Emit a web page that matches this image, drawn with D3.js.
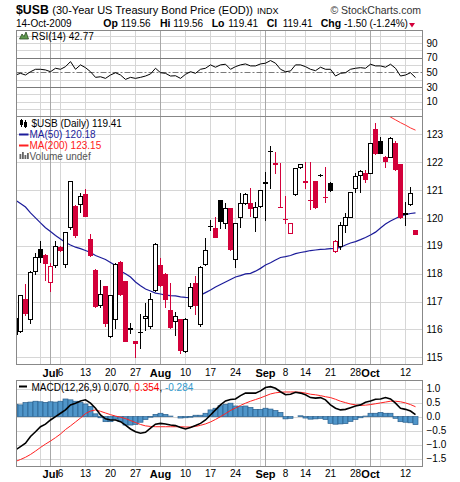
<!DOCTYPE html>
<html>
<head>
<meta charset="utf-8">
<script src="https://cdn.jsdelivr.net/npm/d3@7"></script>
<style>
body { margin: 0; background: #fff; }
svg text { font-family: "Liberation Sans", Arial, sans-serif; }
</style>
</head>
<body>
<div class="usb"></div>
<script>
// trading sessions shown on the chart
var dates = [
	"2009-06-22","2009-06-23","2009-06-24","2009-06-25","2009-06-26","2009-06-29","2009-06-30",
	"2009-07-01","2009-07-02","2009-07-06","2009-07-07","2009-07-08","2009-07-09","2009-07-10","2009-07-13","2009-07-14","2009-07-15","2009-07-16","2009-07-17","2009-07-20","2009-07-21","2009-07-22","2009-07-23","2009-07-24","2009-07-27","2009-07-28","2009-07-29","2009-07-30","2009-07-31",
	"2009-08-03","2009-08-04","2009-08-05","2009-08-06","2009-08-07","2009-08-10","2009-08-11","2009-08-12","2009-08-13","2009-08-14","2009-08-17","2009-08-18","2009-08-19","2009-08-20","2009-08-21","2009-08-24","2009-08-25","2009-08-26","2009-08-27","2009-08-28","2009-08-31",
	"2009-09-01","2009-09-02","2009-09-03","2009-09-04","2009-09-08","2009-09-09","2009-09-10","2009-09-11","2009-09-14","2009-09-15","2009-09-16","2009-09-17","2009-09-18","2009-09-21","2009-09-22","2009-09-23","2009-09-24","2009-09-25","2009-09-28","2009-09-29","2009-09-30",
	"2009-10-01","2009-10-02","2009-10-05","2009-10-06","2009-10-07","2009-10-08","2009-10-09","2009-10-12","2009-10-13","2009-10-14"
];

var open = [115.85,115.95,117.08,116.36,118.10,118.89,118.67,117.71,118.30,118.97,118.34,119.66,120.43,120.49,120.85,119.23,118.13,116.86,117.55,115.76,116.36,118.43,117.73,116.03,115.58,115.90,116.40,116.12,117.41,118.31,117.99,116.69,116.31,116.36,115.23,116.84,117.66,116.19,118.33,119.70,119.65,120.64,119.81,120.34,118.51,120.04,120.52,120.54,120.04,120.43,121.27,122.39,121.95,120.41,119.96,119.47,120.86,121.82,121.31,120.65,121.32,121.53,120.75,121.27,118.80,119.00,119.76,120.04,121.06,121.54,121.60,121.62,123.18,122.77,122.20,122.20,122.68,121.93,120.15,120.50,119.56];
var high = [116.45,117.25,117.63,118.08,118.73,119.18,118.72,118.37,119.18,119.00,119.50,121.34,120.45,120.90,121.03,119.42,118.15,117.77,117.57,117.25,118.37,118.45,117.75,116.22,115.60,116.57,116.93,117.29,119.11,118.55,118.01,117.67,116.63,116.38,116.41,117.67,117.91,118.27,119.27,119.92,120.04,120.66,120.52,120.36,119.83,120.88,120.90,121.06,120.56,121.02,121.66,122.58,122.38,121.98,120.79,119.83,121.80,121.94,122.02,122.02,121.34,121.56,121.84,121.29,119.20,119.86,120.19,120.94,121.60,121.72,121.72,122.70,123.42,122.91,122.22,122.92,122.75,121.95,120.58,121.10,119.56];
var low = [115.73,115.90,116.51,116.22,117.98,118.42,117.77,117.39,118.25,118.83,118.25,119.60,119.30,120.22,120.06,118.65,116.80,116.81,116.12,115.74,116.04,117.25,115.57,115.86,115.00,115.35,115.97,116.04,117.38,117.57,116.81,116.05,115.80,115.14,115.20,116.75,116.57,116.12,118.30,119.56,119.30,119.63,119.63,118.85,118.25,119.68,120.50,120.07,119.54,120.40,119.92,121.06,121.60,120.38,119.83,119.45,120.84,121.80,121.06,120.31,120.36,121.52,120.58,120.98,118.78,118.87,119.50,120.02,120.94,120.94,121.30,121.60,122.30,122.32,121.84,122.18,121.72,120.00,119.74,120.45,119.41];
var close = [116.41,117.23,116.58,118.05,118.59,118.61,118.39,118.27,118.99,118.85,119.48,121.32,119.39,120.79,120.08,118.67,116.84,117.27,116.24,117.22,118.34,117.27,115.59,116.05,115.50,115.92,116.49,117.08,119.05,117.59,117.08,116.07,116.48,115.26,116.39,117.52,116.86,118.25,118.85,119.72,119.32,119.90,120.34,118.87,119.81,120.52,120.86,120.34,120.38,121.00,121.29,122.41,121.97,120.40,119.95,119.81,121.78,121.92,121.30,120.64,120.38,121.54,120.74,121.00,119.18,119.74,120.04,120.92,121.50,121.68,121.38,122.68,122.32,122.34,122.05,122.88,121.74,120.02,120.16,120.91,119.41];

var ma50 = [120.64,120.52,120.39,120.18,120.00,119.82,119.65,119.51,119.37,119.24,119.12,119.03,118.95,118.90,118.83,118.76,118.65,118.58,118.51,118.40,118.29,118.09,118.00,117.88,117.70,117.57,117.45,117.38,117.30,117.27,117.23,117.21,117.20,117.17,117.15,117.14,117.18,117.23,117.32,117.41,117.52,117.61,117.70,117.79,117.88,117.93,117.99,118.01,118.09,118.19,118.31,118.39,118.49,118.58,118.61,118.65,118.72,118.76,118.79,118.83,118.85,118.87,118.88,118.90,118.91,118.94,119.03,119.10,119.15,119.22,119.30,119.39,119.49,119.64,119.78,119.89,119.98,120.07,120.12,120.16,120.18];
// only the tail of the 200-day average comes into view
var ma200Dates = ["2009-10-02","2009-10-05","2009-10-06","2009-10-07","2009-10-08","2009-10-09","2009-10-12","2009-10-13","2009-10-14"];
var ma200 = [123.90,123.80,123.71,123.62,123.52,123.42,123.33,123.23,123.15];

var rsi = [46.3,48.6,46.3,50.8,54.1,54.1,53.2,50.8,55.5,54.1,57.7,64.6,54.1,60.1,56.3,50.8,43.1,43.9,41.7,46.3,49.4,46.3,40.3,43.1,41.7,43.1,44.9,47.7,55.5,49.4,48.6,44.9,45.3,41.7,47.2,50.8,48.6,54.1,55.5,60.1,56.9,60.1,61.0,54.1,57.7,60.1,61.4,58.7,58.7,61.4,62.4,66.0,62.4,54.1,50.8,51.8,60.1,60.1,57.7,54.1,52.2,56.9,54.1,54.1,44.9,48.6,49.4,54.1,55.5,56.3,55.5,61.0,58.7,58.7,56.9,61.0,55.5,44.9,46.3,49.4,42.77];

var macd = [-1.19,-1.07,-0.95,-0.71,-0.54,-0.36,-0.27,-0.12,0.00,0.12,0.24,0.42,0.48,0.56,0.60,0.48,0.30,0.06,-0.08,-0.12,-0.12,-0.18,-0.30,-0.44,-0.54,-0.59,-0.56,-0.41,-0.27,-0.24,-0.26,-0.30,-0.32,-0.39,-0.44,-0.39,-0.32,-0.24,-0.12,0.06,0.24,0.42,0.56,0.61,0.63,0.75,0.84,0.84,0.84,0.92,1.04,1.07,1.01,0.89,0.78,0.80,0.87,0.84,0.78,0.68,0.66,0.68,0.60,0.42,0.30,0.24,0.26,0.32,0.38,0.42,0.51,0.56,0.62,0.63,0.68,0.63,0.48,0.30,0.26,0.20,0.07];
var signal = [-1.60,-1.53,-1.45,-1.35,-1.23,-1.10,-0.98,-0.87,-0.75,-0.62,-0.46,-0.33,-0.19,-0.05,0.11,0.20,0.24,0.19,0.13,0.07,0.02,-0.02,-0.07,-0.14,-0.21,-0.28,-0.33,-0.35,-0.36,-0.36,-0.36,-0.36,-0.36,-0.36,-0.37,-0.37,-0.35,-0.31,-0.26,-0.19,-0.10,0.00,0.11,0.22,0.31,0.40,0.48,0.55,0.61,0.67,0.74,0.81,0.85,0.87,0.88,0.88,0.88,0.87,0.84,0.80,0.78,0.75,0.71,0.68,0.62,0.55,0.50,0.45,0.42,0.40,0.41,0.43,0.46,0.49,0.52,0.55,0.55,0.53,0.49,0.43,0.354];
var hist = [0.44,0.42,0.50,0.52,0.55,0.53,0.51,0.53,0.52,0.55,0.63,0.60,0.55,0.50,0.45,0.36,0.10,-0.04,-0.18,-0.18,-0.09,-0.18,-0.30,-0.30,-0.28,-0.20,-0.10,-0.02,0.08,0.12,0.08,0.02,0.00,-0.05,-0.04,-0.02,0.05,0.05,0.12,0.24,0.30,0.39,0.44,0.48,0.38,0.36,0.38,0.33,0.26,0.26,0.30,0.27,0.22,0.15,-0.08,-0.06,0.00,0.03,-0.05,-0.09,-0.08,-0.06,-0.10,-0.24,-0.27,-0.26,-0.25,-0.17,-0.10,-0.04,0.02,0.12,0.12,0.15,0.12,0.12,-0.06,-0.18,-0.20,-0.22,-0.284];

// axis ticks and labels
var weekTicks = ["2009-06-29","2009-07-06","2009-07-13","2009-07-20","2009-07-27","2009-08-10","2009-08-17","2009-08-24","2009-08-31","2009-09-08","2009-09-14","2009-09-21","2009-09-28","2009-10-05","2009-10-12"];
var monthTicks = ["2009-07-01","2009-08-03","2009-09-01","2009-10-01"];
var monthLabels = ["Jul","Aug","Sep","Oct"];
var dayTicks = ["2009-07-06","2009-07-13","2009-07-20","2009-07-27","2009-08-10","2009-08-17","2009-08-24","2009-09-08","2009-09-14","2009-09-21","2009-09-28","2009-10-12"];
var dayLabels = ["6","13","20","27","10","17","24","8","14","21","28","12"];
var priceTicks = [115,116,117,118,119,120,121,122,123];
var rsiTicks = [90,70,50,30,10];
var rsiGrid = [0,10,20,40,60,80,90,100];
var macdTicks = [1.0,0.5,0.0,-0.5,-1.0,-1.5];

(function drawUSB() {
	"use strict";
	var width = 460, height = 482;
	var left = 16.5, right = 422.5;
	var rsiTop = 30.5, rsiBot = 116.5;
	var priceTop = 116.5, priceBot = 364.5;
	var macdTop = 380.5, macdBot = 466.5;
	var red = "#d3003a";

	var svg = d3.select(".usb")
				.append("svg")
				.attr("width", width)
				.attr("height", height)
				.style("display", "block");

	var defs = svg.append("defs");
	[["clipRsi", rsiTop, rsiBot], ["clipPrice", priceTop, priceBot], ["clipMacd", macdTop, macdBot]].forEach(function(c) {
		defs.append("clipPath").attr("id", c[0])
			.append("rect")
			.attr("x", left).attr("y", c[1])
			.attr("width", right - left).attr("height", c[2] - c[1]);
	});

	var xScale = d3.scalePoint().domain(dates).range([15, 415]);
	function cx(d) { return xScale(d) + 0.5; }

	var yPrice = d3.scaleLinear().domain([114.74, 123.64]).range([priceBot, priceTop]);
	var yRsi = d3.scaleLinear().domain([-10.3, 107.0]).range([rsiBot, rsiTop]);
	var yMacd = d3.scaleLinear().domain([-1.78, 1.29]).range([macdBot, macdTop]);

	// panel backgrounds
	[[rsiTop, rsiBot], [priceTop, priceBot], [macdTop, macdBot]].forEach(function(p) {
		svg.append("rect").attr("x", left).attr("y", p[0])
		   .attr("width", right - left).attr("height", p[1] - p[0])
		   .attr("fill", "#fff");
	});

	function vGrid(top, bot, ticks, color) {
		svg.append("g")
		   .attr("transform", "translate(0," + bot + ")")
		   .call(d3.axisBottom(xScale).tickValues(ticks).tickSize(-(bot - top)).tickFormat(""))
		   .call(function(g) { g.select(".domain").remove(); })
		   .selectAll("line")
		   .attr("stroke", color)
		   .attr("shape-rendering", "crispEdges");
	}
	function hGrid(scale, ticks, color) {
		svg.append("g")
		   .attr("transform", "translate(" + (left - 0.5) + ",0)")
		   .call(d3.axisLeft(scale).tickValues(ticks).tickSize(-(right - left)).tickFormat(""))
		   .call(function(g) { g.select(".domain").remove(); })
		   .selectAll("line")
		   .attr("stroke", color)
		   .attr("shape-rendering", "crispEdges");
	}
	function rightAxis(scale, ticks, fmt) {
		svg.append("g")
		   .attr("transform", "translate(" + right + ",0)")
		   .call(d3.axisRight(scale).tickValues(ticks).tickSize(0).tickPadding(4).tickFormat(fmt))
		   .call(function(g) { g.select(".domain").remove(); })
		   .selectAll("text")
		   .attr("font-size", "10px")
		   .attr("font-family", "Liberation Sans, Arial, sans-serif")
		   .attr("fill", "#000");
	}

	[[rsiTop, rsiBot], [priceTop, priceBot], [macdTop, macdBot]].forEach(function(p) {
		vGrid(p[0], p[1], weekTicks, "#d6d6d6");
	});
	hGrid(yRsi, rsiGrid, "#d6d6d6");
	hGrid(yPrice, priceTicks, "#d6d6d6");
	hGrid(yMacd, macdTicks, "#d6d6d6");
	[[rsiTop, rsiBot], [priceTop, priceBot], [macdTop, macdBot]].forEach(function(p) {
		vGrid(p[0], p[1], monthTicks, "#a8a8a8");
	});

	// RSI panel
	var rsiG = svg.append("g").attr("clip-path", "url(#clipRsi)");
	[70, 30].forEach(function(v) {
		rsiG.append("line")
			.attr("x1", left).attr("x2", right)
			.attr("y1", Math.round(yRsi(v)) + 0.5).attr("y2", Math.round(yRsi(v)) + 0.5)
			.attr("stroke", "#7a7a7a");
	});
	rsiG.append("line")
		.attr("x1", left).attr("x2", right)
		.attr("y1", Math.round(yRsi(50)) + 0.5).attr("y2", Math.round(yRsi(50)) + 0.5)
		.attr("stroke", "#7a7a7a")
		.attr("stroke-dasharray", "6,2,2,2");
	rsiG.append("path")
		.datum(rsi)
		.attr("fill", "none")
		.attr("stroke", "#000")
		.attr("stroke-width", 1)
		.attr("d", d3.line()
			.x(function(d, i) { return cx(dates[i]); })
			.y(function(d) { return yRsi(d); }));
	rightAxis(yRsi, rsiTicks, d3.format("d"));

	// price panel
	var priceG = svg.append("g").attr("clip-path", "url(#clipPrice)");
	priceG.append("path")
		  .datum(ma200)
		  .attr("fill", "none")
		  .attr("stroke", "#ff3030")
		  .attr("stroke-width", 1)
		  .attr("d", d3.line()
		  	.x(function(d, i) { return cx(ma200Dates[i]); })
		  	.y(function(d) { return yPrice(d); }));
	priceG.append("path")
		  .datum(ma50)
		  .attr("fill", "none")
		  .attr("stroke", "#1c1c9a")
		  .attr("stroke-width", 1.2)
		  .attr("d", d3.line()
		  	.x(function(d, i) { return cx(dates[i]); })
		  	.y(function(d) { return yPrice(d); }));

	dates.forEach(function(d, i) {
		var x = cx(d);
		var o = open[i], h = high[i], l = low[i], c = close[i];
		var col = (i === 0 || c >= close[i - 1]) ? "#000" : red;
		var top = Math.round(yPrice(Math.max(o, c)));
		var bot = Math.round(yPrice(Math.min(o, c)));
		var g = priceG.append("g").attr("stroke", col).attr("shape-rendering", "crispEdges");
		if (bot - top < 1) {
			g.append("line")
			 .attr("x1", x).attr("x2", x)
			 .attr("y1", Math.round(yPrice(h))).attr("y2", Math.round(yPrice(l)) + 1);
			g.append("line")
			 .attr("x1", x - 2.5).attr("x2", x + 2.5)
			 .attr("y1", top + 0.5).attr("y2", top + 0.5);
		} else {
			g.append("line")
			 .attr("x1", x).attr("x2", x)
			 .attr("y1", Math.round(yPrice(h))).attr("y2", top);
			g.append("line")
			 .attr("x1", x).attr("x2", x)
			 .attr("y1", bot + 1).attr("y2", Math.round(yPrice(l)) + 1);
			g.append("rect")
			 .attr("x", x - 2).attr("y", top + 0.5)
			 .attr("width", 4).attr("height", bot - top)
			 .attr("fill", c > o ? "#fff" : col);
		}
	});
	rightAxis(yPrice, priceTicks, d3.format("d"));

	// MACD panel
	var macdG = svg.append("g").attr("clip-path", "url(#clipMacd)");
	macdG.selectAll("rect.bar")
		 .data(hist)
		 .enter()
		 .append("rect")
		 .attr("class", "bar")
		 .attr("x", function(d, i) { return cx(dates[i]) - 2.5; })
		 .attr("width", 5)
		 .attr("y", function(d) { return Math.min(yMacd(0), yMacd(d)); })
		 .attr("height", function(d) { return Math.abs(yMacd(d) - yMacd(0)); })
		 .attr("fill", "#4f95c9")
		 .attr("stroke", "#2a5f8c")
		 .attr("stroke-width", 0.7);
	macdG.append("path")
		 .datum(signal)
		 .attr("fill", "none")
		 .attr("stroke", "#ff2020")
		 .attr("stroke-width", 1)
		 .attr("d", d3.line()
		 	.x(function(d, i) { return cx(dates[i]); })
		 	.y(function(d) { return yMacd(d); }));
	macdG.append("path")
		 .datum(macd)
		 .attr("fill", "none")
		 .attr("stroke", "#000")
		 .attr("stroke-width", 1.6)
		 .attr("d", d3.line()
		 	.x(function(d, i) { return cx(dates[i]); })
		 	.y(function(d) { return yMacd(d); }));
	rightAxis(yMacd, macdTicks, d3.format(".1f"));

	// panel borders
	[[rsiTop, rsiBot], [priceTop, priceBot], [macdTop, macdBot]].forEach(function(p) {
		svg.append("rect").attr("x", left).attr("y", p[0])
		   .attr("width", right - left).attr("height", p[1] - p[0])
		   .attr("fill", "none").attr("stroke", "#888")
		   .attr("shape-rendering", "crispEdges");
	});

	// date axes under price and MACD panels
	var labelDates = dayTicks.concat(monthTicks);
	var labelText = {};
	dayTicks.forEach(function(d, i) { labelText[d] = dayLabels[i]; });
	monthTicks.forEach(function(d, i) { labelText[d] = monthLabels[i]; });
	[[priceBot, 4.4], [macdBot, 3.4]].forEach(function(a) {
		svg.append("g")
		   .attr("transform", "translate(0," + a[0] + ")")
		   .call(d3.axisBottom(xScale).tickValues(labelDates).tickSize(0).tickPadding(a[1])
		   	.tickFormat(function(d) { return labelText[d]; }))
		   .call(function(g) { g.select(".domain").remove(); })
		   .selectAll("text")
		   .attr("fill", "#000")
		   .attr("font-family", "Liberation Sans, Arial, sans-serif")
		   .attr("font-size", function(d) { return monthTicks.indexOf(d) >= 0 ? "11px" : "10px"; })
		   .attr("font-weight", function(d) { return monthTicks.indexOf(d) >= 0 ? "bold" : "normal"; });
	});

	// header
	var head = svg.append("text").attr("x", 16).attr("y", 13.5).attr("fill", "#000");
	head.append("tspan").attr("font-size", "12.3px").attr("font-weight", "bold").text("$USB");
	head.append("tspan").attr("font-size", "11px").attr("dx", 3.5).text("(30-Year US Treasury Bond Price (EOD))");
	head.append("tspan").attr("font-size", "9px").attr("dx", 4).text("INDX");
	svg.append("text").attr("x", 421).attr("y", 13.5)
	   .attr("text-anchor", "end").attr("font-size", "10.5px").attr("fill", "#333")
	   .text("\u00a9 StockCharts.com");

	svg.append("text").attr("x", 16).attr("y", 27).attr("font-size", "10px").text("14-Oct-2009");
	var quote = [["Op", 103.3], ["119.56", 120.7], ["Hi", 160], ["119.56", 173.3], ["Lo", 211.7], ["119.41", 228.3],
				 ["Cl", 266.7], ["119.41", 282.7], ["Chg", 320.7], ["-1.50 (-1.24%)", 344]];
	quote.forEach(function(q, i) {
		svg.append("text").attr("x", q[1]).attr("y", 27)
		   .attr("font-size", i % 2 === 0 ? "10.5px" : "10px")
		   .attr("font-weight", i % 2 === 0 ? "bold" : "normal")
		   .text(q[0]);
	});
	svg.append("path").attr("d", "M409,23 L415,23 L412,27.5 Z").attr("fill", red);

	// legends
	var mono = "DejaVu Sans Mono, monospace";
	svg.append("path")
	   .attr("d", "M19.5,39 L22,34 L24,36.5 L26,32 L28.5,39 Z")
	   .attr("fill", "#5f9a4f").attr("stroke", "#2d4d26").attr("stroke-width", 0.8);
	svg.append("text").attr("x", 31.5).attr("y", 39.5)
	   .attr("font-family", mono).attr("font-size", "10px").text("RSI(14) 42.77");

	// price legend icon: two tiny candles
	var icon = svg.append("g").attr("stroke", "#000").attr("shape-rendering", "crispEdges");
	icon.append("line").attr("x1", 21.5).attr("x2", 21.5).attr("y1", 119).attr("y2", 127);
	icon.append("rect").attr("x", 20.5).attr("y", 120.5).attr("width", 2).attr("height", 4).attr("fill", "#000");
	icon.append("line").attr("x1", 25.5).attr("x2", 25.5).attr("y1", 120).attr("y2", 128);
	icon.append("rect").attr("x", 24.5).attr("y", 122.5).attr("width", 2).attr("height", 4).attr("fill", "#000");
	svg.append("text").attr("x", 31.5).attr("y", 127)
	   .attr("font-family", mono).attr("font-size", "10px").text("$USB (Daily) 119.41");

	svg.append("line").attr("x1", 19).attr("x2", 28.5).attr("y1", 134.5).attr("y2", 134.5)
	   .attr("stroke", "#1c1c9a").attr("stroke-width", 2);
	svg.append("text").attr("x", 29.5).attr("y", 138).attr("font-size", "10px").attr("fill", "#1c1c9a").text("MA(50) 120.18");
	svg.append("line").attr("x1", 19).attr("x2", 28.5).attr("y1", 145.5).attr("y2", 145.5)
	   .attr("stroke", "#ff2020").attr("stroke-width", 2);
	svg.append("text").attr("x", 29.5).attr("y", 149).attr("font-size", "10px").attr("fill", "#ff2020").text("MA(200) 123.15");

	var vol = svg.append("g").attr("fill", "#666");
	[[19.5, 154, 5], [22, 152, 7], [24.5, 155, 4], [27, 153, 6]].forEach(function(b) {
		vol.append("rect").attr("x", b[0]).attr("y", b[1]).attr("width", 1.8).attr("height", b[2]);
	});
	svg.append("text").attr("x", 29.5).attr("y", 159.5).attr("font-size", "10px").attr("fill", "#555").text("Volume undef");

	svg.append("line").attr("x1", 19).attr("x2", 27).attr("y1", 386.5).attr("y2", 386.5)
	   .attr("stroke", "#000").attr("stroke-width", 2);
	var ml = svg.append("text").attr("x", 31.5).attr("y", 390.5)
				.attr("font-family", mono).attr("font-size", "10px");
	ml.append("tspan").attr("fill", "#000").text("MACD(12,26,9) 0.070");
	ml.append("tspan").attr("fill", "#ff0000").text(", 0.354");
	ml.append("tspan").attr("fill", "#000").text(",");
	ml.append("tspan").attr("fill", "#3399cc").text(" -0.284");
}());
</script>
</body>
</html>
